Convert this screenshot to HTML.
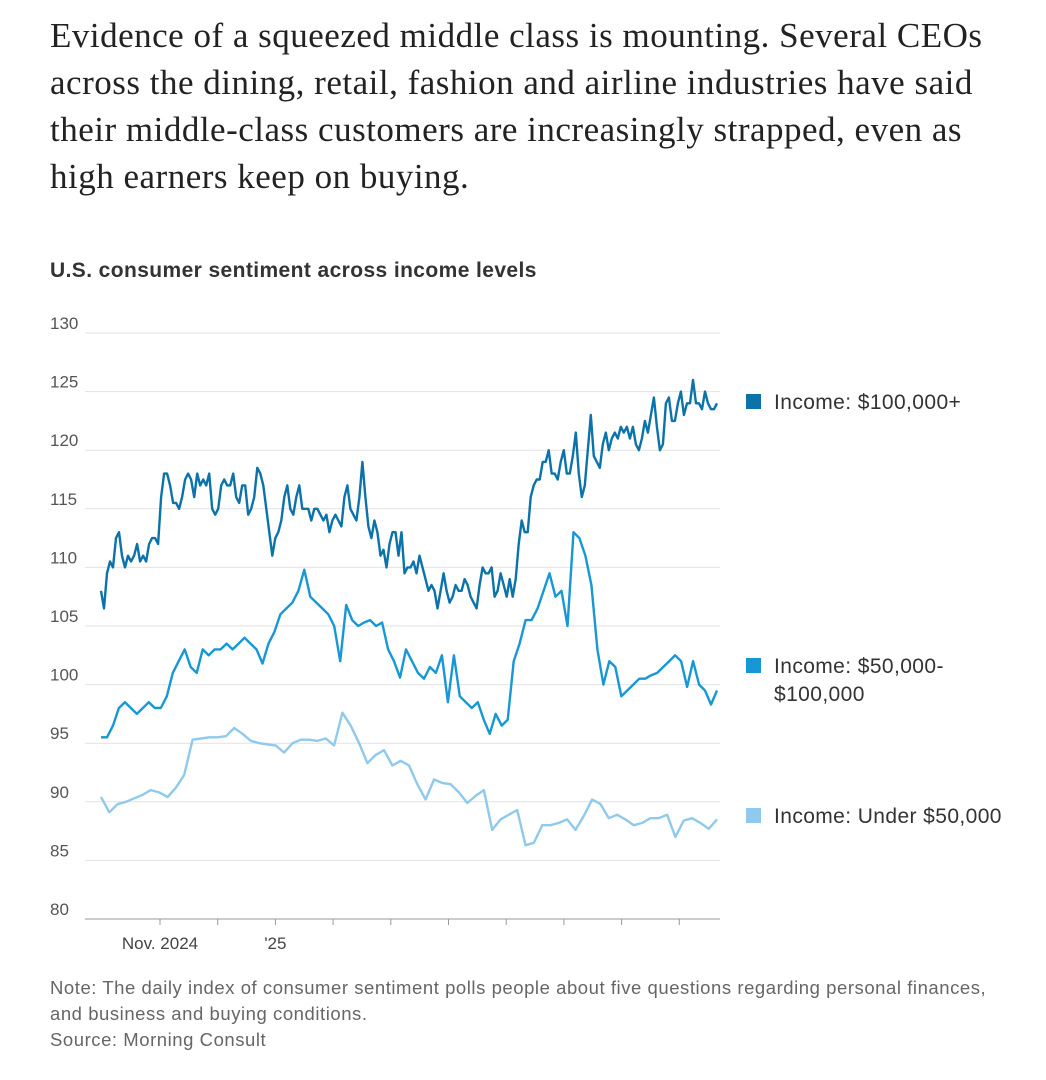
<!DOCTYPE html>
<html><head><meta charset="utf-8">
<style>
body{margin:0;background:#fff;width:1046px;height:1080px;overflow:hidden;position:relative;font-family:"Liberation Sans",sans-serif}
.lead{position:absolute;left:50px;top:12px;white-space:nowrap;font-family:"Liberation Serif",serif;font-size:35px;letter-spacing:0.5px;line-height:47px;color:#222}
.ctitle{position:absolute;left:50px;top:259px;font-size:21px;font-weight:bold;color:#333;letter-spacing:0.4px}
.note{position:absolute;left:50px;top:975px;white-space:nowrap;font-size:18.5px;letter-spacing:0.55px;line-height:26px;color:#666}
</style></head><body>
<div class="lead">Evidence of a squeezed middle class is mounting. Several CEOs<br>across the dining, retail, fashion and airline industries have said<br>their middle-class customers are increasingly strapped, even as<br>high earners keep on buying.</div>
<div class="ctitle">U.S. consumer sentiment across income levels</div>
<svg id="chart" width="1046" height="1080" style="position:absolute;left:0;top:0"></svg>
<div class="note">Note: The daily index of consumer sentiment polls people about five questions regarding personal finances,<br>and business and buying conditions.<br>Source: Morning Consult</div>
<script>
const yTicks=[80,85,90,95,100,105,110,115,120,125,130];
const monthLabels=["Nov. 2024","","'25","","","","","","",""];
const seriesNames=["Income: $100,000+","Income: $50,000-\n$100,000","Income: Under $50,000"];
const high=[108,106.5,109.5,110.5,110,112.5,113,111,110,111,110.5,111,112,110.5,111,110.5,112,112.5,112.5,112,116,118,118,117,115.5,115.5,115,116,117.5,118,117.5,116,118,117,117.5,117,118,115,114.5,115,117,117.5,117,117,118,116,115.5,117,117,114.5,115,116,118.5,118,117,115,113,111,112.5,113,114,116,117,115,114.5,116,117,115,115,115,114,115,115,114.5,114,114.5,113,114,114.5,114,113.5,116,117,115,114.5,114,116,119,116,113.5,112.5,114,113,111,111.5,110,112,113,113,111,113,109.5,110,110,110.5,109.5,111,110,109,108,108.5,108,106.5,108,109.5,108,107,107.5,108.5,108,108,109,108.5,107.5,107,106.5,108.5,110,109.5,109.5,110,107.5,108,109.5,108.5,107.5,109,107.5,109,112,114,113,113,116,117,117.5,117.5,119,119,120,118,118,117.5,119,120,118,118,119.5,121.5,118,116,117,120,123,119.5,119,118.5,120.5,121.5,120,121,121.5,121,122,121.5,122,121,122,120.5,120,121,122.5,121.5,123,124.5,122,120,120.5,124,124.5,122.5,122.5,124,125,123,124,124,126,124,124,123.5,125,124,123.5,123.5,124];
const mid=[95.5,95.5,96.5,98,98.5,98,97.5,98,98.5,98,98,99,101,102,103,101.5,101,103,102.5,103,103,103.5,103,103.5,104,103.5,103,101.8,103.5,104.5,106,106.5,107,108,109.8,107.5,107,106.5,106,105,102,106.8,105.5,105,105.3,105.5,105,105.3,103,102,100.6,103,102,101,100.5,101.5,101,102.5,98.5,102.5,99,98.5,98,98.5,97,95.8,97.5,96.5,97,102,103.5,105.5,105.5,106.5,108,109.5,107.5,108,105,113,112.5,111,108.5,103,100,102,101.5,99,99.5,100,100.5,100.5,100.8,101,101.5,102,102.5,102,99.8,102,100,99.5,98.3,99.5];
const low=[90.4,89.1,89.8,90,90.3,90.6,91,90.8,90.4,91.2,92.3,95.3,95.4,95.5,95.5,95.6,96.3,95.8,95.2,95,94.9,94.8,94.2,95,95.3,95.3,95.2,95.4,94.8,97.6,96.5,95,93.3,94,94.4,93.1,93.5,93.1,91.5,90.2,91.9,91.6,91.5,90.8,89.9,90.5,91,87.6,88.5,88.9,89.3,86.3,86.5,88,88,88.2,88.5,87.6,88.8,90.2,89.8,88.6,88.9,88.5,88,88.2,88.6,88.6,88.9,87,88.4,88.6,88.2,87.7,88.5];
const colors=["#0b72aa","#1797d6","#8fc9ec"];
const svg=document.getElementById('chart');const NS="http://www.w3.org/2000/svg";
const X0=85,X1=720,XD0=101,XD1=717;
const yS=v=>919-(v-80)/50*586;
function el(t,a,p){const e=document.createElementNS(NS,t);for(const k in a)e.setAttribute(k,a[k]);(p||svg).appendChild(e);return e;}
yTicks.forEach(v=>{
 const l=el('line',{x1:X0,x2:X1,y1:yS(v),y2:yS(v),stroke:v===80?'#999':'#e2e2e2','stroke-width':1});
 
 
 const t=el('text',{x:50,y:yS(v)-4,'font-size':17,fill:'#555','font-family':'Liberation Sans, sans-serif'});t.textContent=v;
 
 
});
monthLabels.forEach((m,i)=>{
 const x=160+i*57.7;
 const tk=el('line',{x1:x,x2:x,y1:919,y2:925,stroke:'#999'});
 
 
 if(m){const t=el('text',{x:x,y:949,'text-anchor':'middle','font-size':17,fill:'#444','font-family':'Liberation Sans, sans-serif'});t.textContent=m;
 
 }
});
[high,mid,low].forEach((arr,s)=>{
 const d=arr.map((v,i)=>(i?'L':'M')+(XD0+i*(XD1-XD0)/(arr.length-1)).toFixed(1)+','+yS(v).toFixed(1)).join('');
 const p=el('path',{d:d,fill:'none',stroke:colors[s],'stroke-width':2.4,'stroke-linejoin':'round'});
 
 
 const ly=[402,666,816][s];
 const r=el('rect',{x:746,y:ly-8,width:15,height:15,fill:colors[s]});
 
 
 seriesNames[s].split('\n').forEach((ln,j)=>{
  const t=el('text',{x:774,y:ly+7+j*28,'font-size':21,'letter-spacing':0.4,fill:'#333','font-family':'Liberation Sans, sans-serif'});t.textContent=ln;
  
  
 });
});
</script>
</body></html>
